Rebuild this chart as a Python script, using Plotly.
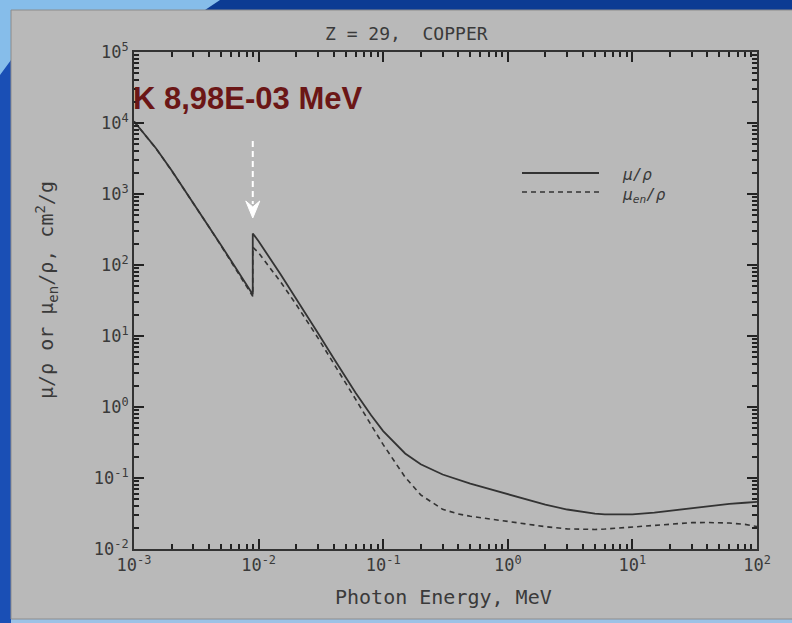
import math
import plotly.graph_objects as go

# Copper (Z = 29) photon interaction coefficients, cm^2/g
energy_mev = [1.0e-3, 1.5e-3, 2.0e-3, 3.0e-3, 4.0e-3, 5.0e-3, 6.0e-3, 8.0e-3,
              8.979e-3, 8.979e-3, 1.0e-2, 1.5e-2, 2.0e-2, 3.0e-2, 4.0e-2, 5.0e-2,
              6.0e-2, 8.0e-2, 1.0e-1, 1.5e-1, 2.0e-1, 3.0e-1, 4.0e-1, 5.0e-1,
              6.0e-1, 8.0e-1, 1.0, 1.25, 1.5, 2.0, 3.0, 4.0, 5.0, 6.0, 8.0,
              10.0, 15.0, 20.0, 30.0, 40.0, 50.0, 60.0, 80.0, 100.0]
mu_rho = [10570, 4418, 2154, 748.8, 347.3, 189.9, 115.6, 52.55,
          38.29, 278.4, 215.9, 74.05, 33.79, 10.92, 4.862, 2.613,
          1.593, 0.7630, 0.4584, 0.2217, 0.1559, 0.1119, 0.09413, 0.08362,
          0.07625, 0.06605, 0.05901, 0.05261, 0.04803, 0.04205, 0.03599, 0.03308,
          0.03154, 0.03073, 0.03040, 0.03077, 0.03259, 0.03459, 0.0383, 0.0405,
          0.0420, 0.0432, 0.0448, 0.0462]
mu_en_rho = [10490, 4393, 2142, 743.0, 343.2, 186.6, 112.8, 50.27,
             36.33, 178.8, 148.4, 57.88, 27.88, 9.349, 4.163, 2.192,
             1.290, 0.5581, 0.2949, 0.1027, 0.05781, 0.03617, 0.03121, 0.02897,
             0.02765, 0.02595, 0.02467, 0.02337, 0.02226, 0.02063, 0.01920, 0.01882,
             0.01885, 0.01910, 0.01985, 0.02055, 0.02190, 0.02269, 0.0235, 0.0236,
             0.0235, 0.0232, 0.0222, 0.0207]

k_edge_mev = 8.979e-3
x_exponents = [-3, -2, -1, 0, 1, 2]
y_exponents = [-2, -1, 0, 1, 2, 3, 4, 5]
title_text = "Z = 29,  COPPER"
edge_label = "K 8,98E-03 MeV"
x_title = "Photon Energy, MeV"
y_title = "μ/ρ or μ<sub>en</sub>/ρ, cm<sup>2</sup>/g"
legend_labels = ["μ/ρ", "μ<sub>en</sub>/ρ"]

W, H = 792, 623
L, R, T, B = 134, 757, 52, 549
X_RANGE = [x_exponents[0], x_exponents[-1]]
Y_RANGE = [y_exponents[0], y_exponents[-1]]


def px(xpix):
    return (xpix - L) / (R - L)


def py(ypix):
    return (B - ypix) / (B - T)


def x_paper_of(e):
    return (math.log10(e) - X_RANGE[0]) / (X_RANGE[1] - X_RANGE[0])


def power_ticks(exps):
    vals = [10.0 ** e for e in exps]
    text = [f"10<sup>{e}</sup>" for e in exps]
    return vals, text


def minor_ticks(exps):
    return [d * 10.0 ** e for e in exps[:-1] for d in range(2, 10)]


INK = "#333333"
TICK = "#222222"
TEXT = "#3a3a3a"
MONO = "DejaVu Sans Mono"

fig = go.Figure()
fig.add_trace(go.Scatter(x=energy_mev, y=mu_rho, mode="lines",
                         line=dict(color=INK, width=1.8), name="μ/ρ",
                         showlegend=False))
# second series lives on the overlay axes that carry the minor ticks
fig.add_trace(go.Scatter(x=energy_mev, y=mu_en_rho, mode="lines",
                         line=dict(color=INK, width=1.6, dash="5px,4px"),
                         name="μen/ρ", showlegend=False, xaxis="x2", yaxis="y2"))

shapes = [
    # slide background pieces
    dict(type="rect", xref="paper", yref="paper", x0=px(0), x1=px(W), y0=py(0), y1=py(10),
         fillcolor="#0c3b93", line_width=0, layer="below"),
    dict(type="rect", xref="paper", yref="paper", x0=px(0), x1=px(11), y0=py(0), y1=py(H),
         fillcolor="#1a4fb5", line_width=0, layer="below"),
    dict(type="path", xref="paper", yref="paper", layer="below", line_width=0,
         fillcolor="#86bdea",
         path=f"M{px(0)},{py(0)} L{px(220)},{py(0)} L{px(205)},{py(10)} "
              f"L{px(11)},{py(10)} L{px(11)},{py(60)} L{px(0)},{py(75)} Z"),
    dict(type="rect", xref="paper", yref="paper", x0=px(11), x1=px(W), y0=py(619), y1=py(H),
         fillcolor="#9cc2e6", line_width=0, layer="below"),
    # grey panel
    dict(type="rect", xref="paper", yref="paper", x0=px(11), x1=px(W + 5), y0=py(10), y1=py(619),
         fillcolor="#b9b9b9", line=dict(color="#8c8c8c", width=1), layer="below"),
    # legend samples
    dict(type="line", xref="paper", yref="paper", x0=px(522), x1=px(599), y0=py(173), y1=py(173),
         line=dict(color=INK, width=1.8)),
    dict(type="line", xref="paper", yref="paper", x0=px(522), x1=px(599), y0=py(192), y1=py(192),
         line=dict(color=INK, width=1.6, dash="5px,4px")),
]

# white dashed arrow pointing at the K edge
ax_x = x_paper_of(k_edge_mev)
hw = 7 / (R - L)
shapes.append(dict(type="line", xref="paper", yref="paper", x0=ax_x, x1=ax_x,
                   y0=py(141), y1=py(204), line=dict(color="white", width=2, dash="6px,4px")))
shapes.append(dict(type="path", xref="paper", yref="paper", fillcolor="white",
                   line=dict(color="white", width=1),
                   path=f"M{ax_x - hw},{py(201)} L{ax_x},{py(218)} L{ax_x + hw},{py(201)} "
                        f"L{ax_x},{py(207)} Z"))

annotations = [
    dict(text=title_text, xref="paper", yref="paper", x=px(406), y=py(34),
         showarrow=False, xanchor="center", yanchor="middle",
         font=dict(family=MONO, size=18, color=TEXT)),
    dict(text=edge_label, xref="paper", yref="paper", x=px(131), y=py(98),
         showarrow=False, xanchor="left", yanchor="middle",
         font=dict(family="Liberation Sans", size=31, color="#6b1616", weight="bold")),
    dict(text=x_title, xref="paper", yref="paper", x=px(443), y=py(597),
         showarrow=False, xanchor="center", yanchor="middle",
         font=dict(family=MONO, size=20, color=TEXT)),
    dict(text=y_title, xref="paper", yref="paper", x=px(46), y=py(290),
         showarrow=False, xanchor="center", yanchor="middle", textangle=-90,
         font=dict(family=MONO, size=20, color=TEXT)),
    dict(text=legend_labels[0], xref="paper", yref="paper", x=px(620), y=py(175),
         showarrow=False, xanchor="left", yanchor="middle",
         font=dict(family=MONO, size=16, color=TEXT, style="italic")),
    dict(text=legend_labels[1], xref="paper", yref="paper", x=px(620), y=py(195),
         showarrow=False, xanchor="left", yanchor="middle",
         font=dict(family=MONO, size=16, color=TEXT, style="italic")),
]

axis_common = dict(
    type="log", tickmode="array", showgrid=False, zeroline=False,
    showline=True, linecolor=INK, linewidth=2, mirror="ticks",
    ticks="inside", tickcolor=TICK,
)

xv, xt = power_ticks(x_exponents)
yv, yt = power_ticks(y_exponents)
tick_font = dict(family=MONO, size=17, color=TEXT)

fig.update_layout(
    xaxis=dict(range=X_RANGE, tickvals=xv, ticktext=xt, ticklen=10, tickwidth=2,
               tickfont=tick_font, **axis_common),
    yaxis=dict(range=Y_RANGE, tickvals=yv, ticktext=yt, ticklen=10, tickwidth=2,
               tickfont=tick_font, **axis_common),
    # overlay axes: same scale, carrying the 2..9 minor ticks
    xaxis2=dict(range=X_RANGE, tickvals=minor_ticks(x_exponents), ticklen=5, tickwidth=1.5,
                showticklabels=False, overlaying="x", side="bottom", **axis_common),
    yaxis2=dict(range=Y_RANGE, tickvals=minor_ticks(y_exponents), ticklen=5, tickwidth=1.5,
                showticklabels=False, overlaying="y", side="left", **axis_common),
)

fig.update_layout(
    width=W, height=H, autosize=False,
    margin=dict(l=L, r=W - R, t=T, b=H - B, pad=0),
    paper_bgcolor="#b9b9b9", plot_bgcolor="rgba(0,0,0,0)",
    shapes=shapes, annotations=annotations, showlegend=False,
)

fig.write_html("out.html")
